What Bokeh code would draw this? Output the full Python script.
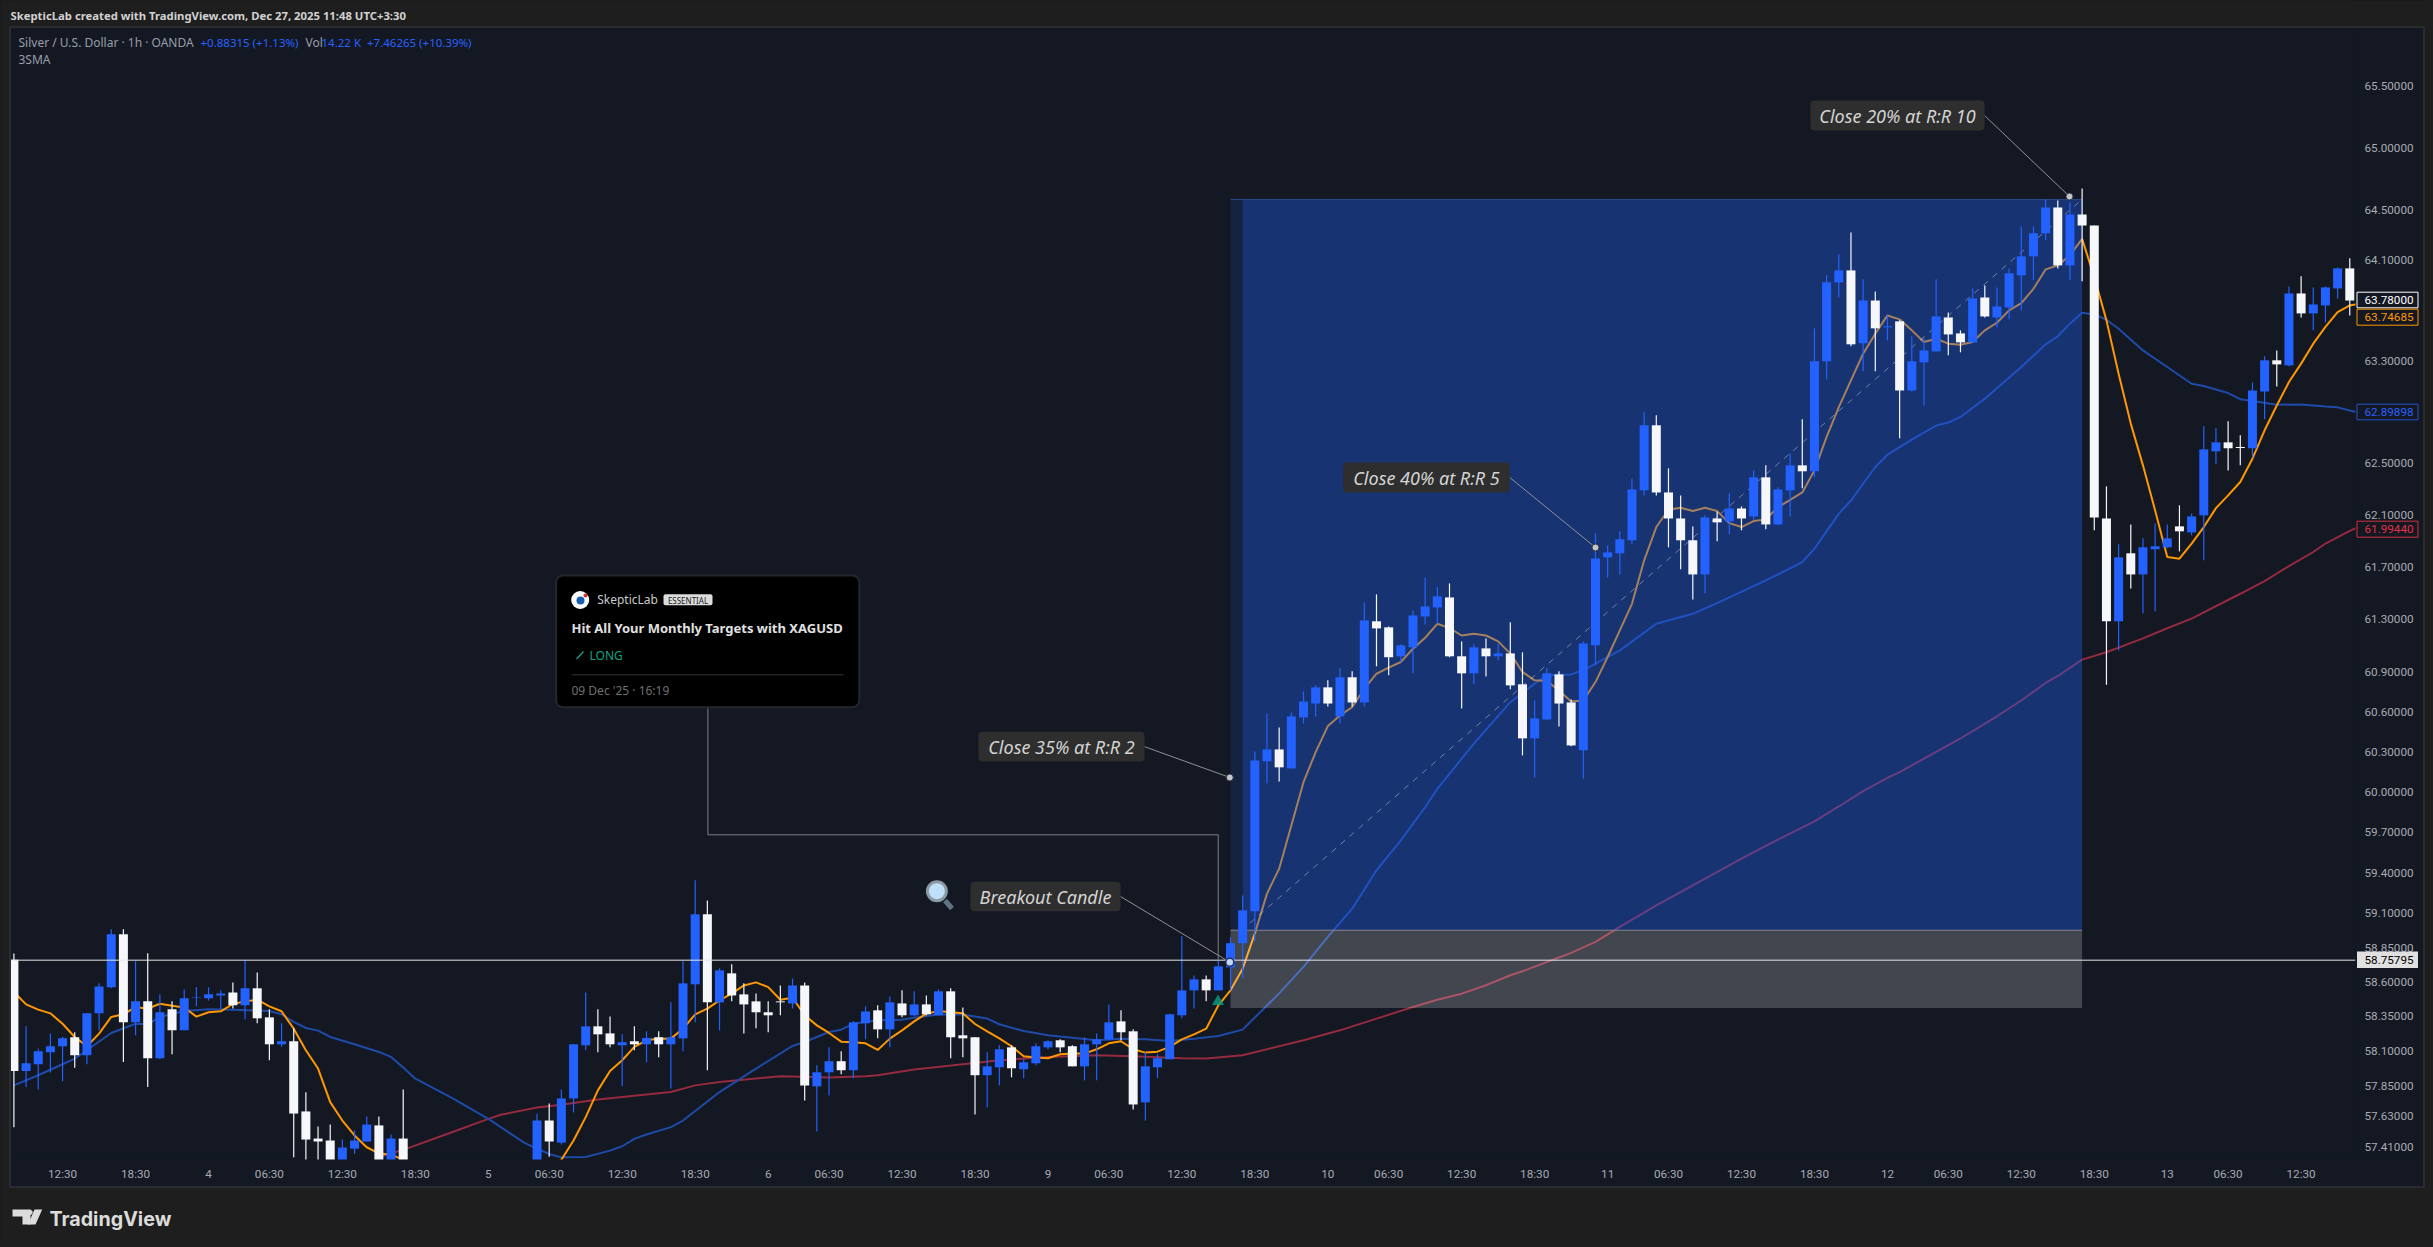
import math
from bokeh.plotting import figure
from bokeh.models import (Range1d, FixedTicker, PrintfTickFormatter, Label, PolyAnnotation)
from bokeh.embed import file_html
from bokeh.resources import INLINE

# ---------- data ----------
bar_side = ("wbbbbwbbbw" "bwbwbbbbwb" "wwbwwwwbbb" "wbwwbwwbbw" "bwbbwbbbww"
            "bwbwbbbwbw" "wwwwbwbbwb" "bwbwbwbwww" "bbwbbbwwbb" "bwwbbbbbwb"
            "bbbbwbbbwb" "wbwwbbbbww" "bwbwwbbwwb" "bbbbbwwwwb" "wbwbwbbwbb"
            "bwbwbwbbbw" "wbwbbbbbwb" "wwwbwbbbwb" "bbwwbbwbwb" "bbw")

highs = [58.806,58.277,58.116,58.226,58.202,58.234,58.371,58.589,58.984,58.984,
 58.750,58.808,58.509,58.458,58.545,58.562,58.560,58.538,58.596,58.757,
 58.669,58.400,58.299,58.263,57.801,57.556,57.570,57.463,57.528,57.628,
 57.628,57.499,57.822,57.28,57.22,57.20,57.10,57.09,57.15,57.16,
 57.18,57.17,57.25,57.647,57.721,57.822,58.147,58.523,58.400,58.349,
 58.219,58.277,58.241,58.241,58.451,58.750,59.344,59.196,58.699,58.728,
 58.589,58.516,58.458,58.574,58.625,58.596,57.996,58.125,58.097,58.313,
 58.422,58.429,58.494,58.538,58.531,58.501,58.545,58.553,58.414,58.198,
 58.089,58.140,58.140,58.039,58.154,58.176,58.183,58.140,58.198,58.226,
 58.436,58.393,58.255,58.089,58.075,58.369,58.933,58.647,58.647,58.762,
 58.926,59.233,60.302,60.587,60.482,60.595,60.753,60.799,60.837,60.928,
 60.906,61.429,61.490,61.246,61.110,61.368,61.620,61.544,61.574,61.132,
 61.110,61.155,61.117,61.277,61.049,60.685,60.928,60.906,60.693,61.132,
 61.960,61.866,61.974,62.383,62.897,62.874,62.461,62.251,62.012,62.097,
 62.127,62.266,62.166,62.445,62.484,62.314,62.577,62.843,63.557,63.977,
 64.144,64.319,63.945,63.849,63.659,63.620,63.494,63.478,63.945,63.683,
 63.541,63.873,63.897,63.881,64.032,64.367,64.367,64.583,64.575,64.559,
 64.671,64.375,62.321,61.874,62.027,61.920,62.035,62.027,62.174,62.112,
 62.788,62.773,62.827,62.718,63.131,63.336,63.383,63.889,63.969,63.881,
 63.889,64.040,64.112]

body_top = [58.762,58.010,58.097,58.133,58.190,58.198,58.371,58.567,58.948,58.948,
 58.458,58.458,58.379,58.400,58.480,58.487,58.509,58.516,58.523,58.553,
 58.553,58.342,58.169,58.169,57.664,57.470,57.456,57.406,57.456,57.570,
 57.564,57.470,57.470,57.24,57.18,57.17,57.07,57.05,57.11,57.12,
 57.13,57.14,57.21,57.599,57.599,57.757,58.147,58.277,58.277,58.226,
 58.162,58.169,58.193,58.198,58.198,58.589,59.094,59.094,58.684,58.662,
 58.509,58.458,58.379,58.458,58.574,58.574,57.945,58.025,58.025,58.306,
 58.385,58.393,58.451,58.443,58.436,58.436,58.531,58.531,58.212,58.198,
 57.988,58.111,58.125,58.017,58.133,58.169,58.176,58.133,58.147,58.183,
 58.306,58.313,58.241,57.988,58.046,58.364,58.538,58.618,58.618,58.713,
 58.882,59.123,60.235,60.317,60.317,60.565,60.677,60.784,60.784,60.860,
 60.860,61.292,61.285,61.239,61.102,61.330,61.398,61.475,61.467,61.019,
 61.087,61.079,61.041,61.041,60.807,60.550,60.890,60.882,60.670,61.117,
 61.766,61.812,61.913,62.297,62.796,62.796,62.274,62.073,61.905,62.081,
 62.073,62.150,62.150,62.391,62.391,62.297,62.484,62.484,63.297,63.921,
 64.016,64.016,63.777,63.777,63.573,63.612,63.297,63.383,63.651,63.643,
 63.517,63.793,63.801,63.730,63.993,64.128,64.312,64.519,64.519,64.463,
 64.463,64.375,62.073,61.774,61.805,61.851,61.859,61.920,62.012,62.089,
 62.608,62.663,62.663,62.627,63.068,63.305,63.305,63.833,63.833,63.746,
 63.881,64.032,64.032]

body_bottom = [57.955,57.955,58.003,58.089,58.133,58.068,58.068,58.371,58.560,58.306,
 58.306,58.046,58.046,58.248,58.248,58.482,58.480,58.501,58.429,58.429,
 58.335,58.147,58.147,57.649,57.463,57.449,57.30,57.30,57.398,57.449,
 57.30,57.30,57.30,57.17,57.12,57.06,57.00,56.98,57.04,57.05,
 57.05,57.08,57.12,57.28,57.449,57.441,57.757,58.140,58.219,58.147,
 58.140,58.147,58.147,58.147,58.147,58.190,58.582,58.451,58.451,58.501,
 58.436,58.379,58.357,58.451,58.443,57.851,57.844,57.945,57.960,57.960,
 58.299,58.255,58.255,58.357,58.357,58.364,58.357,58.198,58.190,57.924,
 57.924,57.981,57.974,57.967,58.010,58.125,58.125,57.988,57.988,58.147,
 58.183,58.234,57.714,57.729,57.981,58.039,58.357,58.538,58.538,58.538,
 58.706,58.882,59.116,60.228,60.183,60.175,60.557,60.662,60.662,60.565,
 60.670,60.670,61.231,61.012,61.019,61.087,61.322,61.390,61.019,60.890,
 60.890,61.019,61.019,60.799,60.400,60.400,60.542,60.662,60.347,60.310,
 61.102,61.774,61.805,61.905,62.290,62.274,62.073,61.905,61.643,61.643,
 62.043,62.050,62.073,62.089,62.027,62.027,62.290,62.438,62.438,63.297,
 63.921,63.431,63.439,63.557,63.565,63.068,63.068,63.289,63.375,63.509,
 63.446,63.446,63.651,63.643,63.722,63.977,64.128,64.312,64.056,64.056,
 64.375,62.081,61.285,61.285,61.643,61.643,61.836,61.851,61.974,61.966,
 62.097,62.593,62.617,62.619,62.617,63.060,63.273,63.265,63.675,63.675,
 63.738,63.873,63.777]

lows = [57.551,57.839,57.822,57.943,57.880,57.977,58.003,58.248,58.553,58.020,
 58.212,57.839,58.039,58.075,58.248,58.422,58.465,58.400,58.407,58.328,
 58.299,58.032,58.128,57.336,57.25,57.25,57.25,57.25,57.362,57.449,
 57.25,57.25,57.25,57.12,57.08,57.03,56.96,56.95,57.00,57.02,
 57.02,57.05,57.10,57.24,57.341,57.427,57.657,58.104,58.089,58.125,
 57.844,58.104,58.017,58.053,57.829,58.097,58.306,57.960,58.248,58.458,
 58.226,58.263,58.234,58.357,58.407,57.743,57.521,57.779,57.931,57.902,
 58.183,58.190,58.125,58.342,58.349,58.357,58.357,58.046,58.053,57.642,
 57.693,57.851,57.909,57.902,57.996,58.111,58.089,57.988,57.887,57.887,
 58.176,58.176,57.678,57.599,57.902,58.039,58.335,58.407,58.458,58.538,
 58.538,58.626,58.897,60.062,60.078,60.175,60.512,60.565,60.640,60.512,
 60.640,60.640,60.943,60.875,60.974,60.890,61.261,61.269,61.012,60.625,
 60.807,60.867,60.989,60.769,60.272,60.107,60.542,60.490,60.340,60.100,
 60.951,61.620,61.643,61.874,62.251,62.251,61.851,61.682,61.452,61.498,
 61.897,61.951,61.982,62.066,61.989,62.020,62.089,62.306,62.391,63.155,
 63.801,63.415,63.218,63.218,63.462,62.695,63.060,62.951,63.375,63.344,
 63.368,63.446,63.643,63.565,63.628,63.699,63.937,64.256,64.032,63.937,
 63.929,61.982,60.803,61.064,61.536,61.345,61.360,61.843,61.820,61.943,
 61.751,62.492,62.445,62.484,62.546,62.843,63.100,63.258,63.643,63.541,
 63.604,63.793,63.659]

sma_fast = [58.526,58.436,58.398,58.371,58.296,58.200,58.133,58.224,58.345,58.364,
 58.417,58.405,58.441,58.426,58.414,58.347,58.379,58.386,58.439,58.458,
 58.470,58.422,58.386,58.260,58.104,57.972,57.731,57.599,57.492,57.408,
 57.365,57.355,57.32,57.27,57.22,57.17,57.13,57.09,57.07,57.06,
 57.07,57.08,57.12,57.18,57.25,57.319,57.456,57.623,57.815,57.955,
 58.032,58.128,58.176,58.188,58.188,58.260,58.364,58.405,58.465,58.514,
 58.574,58.596,58.562,58.470,58.484,58.357,58.284,58.229,58.166,58.162,
 58.154,58.106,58.188,58.248,58.313,58.369,58.388,58.379,58.371,58.294,
 58.241,58.190,58.133,58.060,58.051,58.046,58.075,58.080,58.080,58.111,
 58.154,58.169,58.111,58.087,58.094,58.128,58.183,58.219,58.260,58.429,
 58.538,58.696,58.953,59.246,59.430,59.750,60.072,60.297,60.492,60.572,
 60.635,60.774,60.887,60.933,60.976,61.077,61.160,61.266,61.233,61.177,
 61.190,61.177,61.132,61.039,60.900,60.837,60.832,60.761,60.677,60.685,
 60.824,61.014,61.216,61.418,61.751,62.007,62.140,62.156,62.130,62.156,
 62.130,62.037,62.007,62.053,62.066,62.161,62.217,62.274,62.445,62.705,
 62.938,63.147,63.357,63.515,63.659,63.628,63.541,63.449,63.475,63.436,
 63.428,63.449,63.541,63.601,63.699,63.756,63.870,64.024,64.056,64.136,
 64.267,63.963,63.620,63.200,62.809,62.484,62.135,61.777,61.764,61.879,
 62.007,62.153,62.251,62.355,62.536,62.757,62.951,63.134,63.279,63.436,
 63.568,63.686,63.738,63.755]

sma_mid_i = [0,2,4,5,6,8,10,11,12,14,16,18,21,22,23,24,25,26,28,30,31,32,33,36,39,42,44,45,47,49,
 50,51,52,54,55,58,61,64,65,67,68,69,70,71,73,74,76,78,80,81,83,85,87,89,91,93,95,97,99,
 101,104,106,108,110,112,114,116,117,120,123,125,126,128,129,132,135,138,140,
 144,147,148,150,151,153,154,156,158,159,160,162,165,167,168,169,170,
 171,172,173,175,177,179,180,182,183,184,186,188,190,191,192,193]
sma_mid = [57.851,57.924,58.003,58.044,58.104,58.229,58.296,58.292,58.345,58.388,58.400,58.398,58.388,58.364,58.309,58.265,58.246,58.200,58.147,58.092,58.056,57.979,57.899,57.762,57.611,57.437,57.360,57.336,57.338,57.384,
 57.415,57.468,57.499,57.552,57.599,57.803,57.972,58.135,58.164,58.236,58.253,58.296,58.309,58.321,58.325,58.340,58.362,58.362,58.333,58.292,58.243,58.212,58.195,58.176,58.188,58.183,58.171,58.188,58.207,
 58.253,58.516,58.709,58.928,59.135,59.418,59.640,59.885,60.022,60.360,60.672,60.812,60.875,60.882,60.913,61.064,61.266,61.342,61.424,
 61.597,61.738,61.841,62.109,62.212,62.471,62.567,62.684,62.794,62.817,62.861,63.003,63.252,63.431,63.494,63.594,63.680,
 63.667,63.625,63.554,63.383,63.252,63.121,63.103,63.048,63.000,62.985,62.956,62.959,62.943,62.936,62.912,62.89]

sma_slow_i = [30,31,32,36,39,40,43,45,48,52,54,56,58,61,63,67,70,71,74,78,81,85,89,92,96,98,101,
 106,109,112,115,117,119,121,123,124,127,128,130,132,135,138,142,144,148,150,152,154,155,158,160,163,
 165,167,168,170,172,175,177,179,183,185,187,189,190,192,193]
sma_slow = [57.336,57.365,57.389,57.515,57.611,57.640,57.692,57.712,57.750,57.786,57.803,57.851,57.875,57.900,57.916,57.907,57.916,57.924,57.965,58.003,58.032,58.056,58.068,58.061,58.046,58.044,58.068,
 58.176,58.248,58.333,58.417,58.470,58.514,58.575,58.648,58.677,58.778,58.811,58.892,59.001,59.159,59.307,59.504,59.599,59.780,59.891,60.006,60.105,60.147,60.299,60.399,60.566,
 60.685,60.817,60.870,60.994,61.050,61.155,61.232,61.305,61.495,61.592,61.707,61.815,61.880,61.977,62.02]

price_ticks = [65.5,65.0,64.5,64.1,63.3,62.5,62.1,61.7,61.3,60.9,60.6,60.3,60.0,59.7,59.4,59.1,58.85,58.6,58.35,58.1,57.85,57.63,57.41]
time_ticks = [4,10,16,21,27,33,39,44,50,56,62,67,73,79,85,90,96,102,108,113,119,125,131,136,142,148,154,159,165,171,177,182,188]
time_labels = ["12:30","18:30","4","06:30","12:30","18:30","5","06:30","12:30","18:30","6","06:30","12:30","18:30","9","06:30","12:30","18:30","10","06:30","12:30","18:30","11","06:30","12:30","18:30","12","06:30","12:30","18:30","13","06:30","12:30"]

last_price = 58.75795
position_entry_i, position_exit_i = 100, 170
position_target = 64.583
position_entry = 58.977
position_stop = 58.409
dash_i = [101.6, 169.9]
dash_p = [59.03, 64.575]

# ---------- layout: reference pixels to data / to screen units ----------
BG, PAGE = "#131823", "#1e1e1e"
W, H = 2425, 1239
FL, FT, FR, FB = 10, 27, 2355, 1159      # chart pane
PR, PB = 2423, 1186                       # outer panel
X0, DX = 13.4, 12.166
Y0, K, P0 = 209.3, 8048.0, 64.5
def PX(px): return (px - X0) / DX
def PY(py): return P0 * math.exp((Y0 - py) / K)
def SX(px): return px
def SY(py): return H - py

UI = "Noto Sans"
AX = "Roboto"

p = figure(width=W, height=H, output_backend="svg", toolbar_location=None,
           x_range=Range1d(PX(0), PX(W)), y_range=Range1d(PY(H), PY(0)),
           y_axis_type="log", y_axis_location="right",
           min_border_left=0, min_border_top=0, min_border_right=0, min_border_bottom=0,
           background_fill_color=BG, border_fill_color=PAGE)
p.grid.visible = False
p.outline_line_color = None

for ax in (p.xaxis, p.yaxis):
    ax.major_tick_line_color = None
    ax.minor_tick_line_color = None
    ax.axis_line_color = None
    ax.major_tick_out = 0
    ax.major_tick_in = 0
    ax.major_label_text_color = "#a8abb2"
    ax.major_label_text_font = AX
    ax.major_label_text_font_size = "11.7px"

p.yaxis.ticker = FixedTicker(ticks=price_ticks)
p.yaxis.formatter = PrintfTickFormatter(format="%.5f")
p.yaxis.major_label_standoff = 9
p.yaxis.fixed_location = PX(FR)

p.xaxis.ticker = FixedTicker(ticks=time_ticks)
p.xaxis.major_label_overrides = dict(zip(time_ticks, time_labels))
p.xaxis.major_label_standoff = 7
p.xaxis.fixed_location = PY(FB)

def ann_poly(pts, fill=None, line=None, lw=1):
    a = PolyAnnotation(xs=[SX(x) for x, _ in pts], ys=[SY(y) for _, y in pts],
                       xs_units="screen", ys_units="screen",
                       fill_color=fill if fill else "#000000", fill_alpha=1.0 if fill else 0.0,
                       line_color=line if line else "#000000", line_alpha=1.0 if line else 0.0, line_width=lw)
    p.add_layout(a)

def ann_rect(x0, x1, y0, y1, fill=None, line=None, lw=1):
    ann_poly([(x0, y0), (x1, y0), (x1, y1), (x0, y1)], fill, line, lw)

def txt(x, y, s, size="12px", color="#c8c8c8", font=UI, style="normal", align="left"):
    p.add_layout(Label(x=SX(x), y=SY(y), x_units="screen", y_units="screen", text=s, text_font=font,
                       text_font_size=size, text_color=color, text_font_style=style,
                       text_align=align, text_baseline="middle"))

def mask(x0, x1, y0, y1, color):
    p.quad(left=[PX(x0)], right=[PX(x1)], bottom=[PY(y1)], top=[PY(y0)], fill_color=color, line_color=None)

# moving averages, under the position overlay
all_i = list(range(len(sma_fast)))
p.line(sma_slow_i, sma_slow, line_color="#962a3f", line_width=2)
p.line(sma_mid_i, sma_mid, line_color="#1f4aa8", line_width=2)
p.line(all_i, sma_fast, line_color="#ff9800", line_width=2)

# position overlay
p.quad(left=position_entry_i, right=position_entry_i + 1, bottom=position_entry, top=position_target,
       fill_color="#1d3f8f", fill_alpha=0.28, line_color=None)
p.quad(left=position_entry_i + 1, right=position_exit_i, bottom=position_entry, top=position_target,
       fill_color="#205ce8", fill_alpha=0.40, line_color=None)
p.quad(left=position_entry_i, right=position_exit_i, bottom=position_stop, top=position_entry,
       fill_color="#ffffff", fill_alpha=0.20, line_color=None)
p.segment(x0=[position_entry_i], x1=[position_exit_i], y0=[position_entry], y1=[position_entry],
          line_color="#85878e", line_width=1)
p.segment(x0=[position_entry_i], x1=[position_exit_i], y0=[position_target], y1=[position_target],
          line_color="#2a4a8c", line_width=1)
p.line(dash_i, dash_p, line_color="#ffffff", line_alpha=0.38, line_width=1, line_dash="6 6")

# candles
BLUE, WHITE = "#2362ff", "#f5f7fa"
colors = [BLUE if c == "b" else WHITE for c in bar_side]
idx = list(range(len(highs)))
p.segment(x0=idx, x1=idx, y0=lows, y1=highs, line_color=colors, line_width=1.2)
p.quad(left=[i - 0.37 for i in idx], right=[i + 0.37 for i in idx], bottom=body_bottom, top=body_top,
       fill_color=colors, line_color=None)

# last price line
p.line([PX(FL), PX(FR)], [last_price, last_price], line_color="#e6e6e6", line_width=1)

# connector from idea card and its triangle
p.line([PX(707.4), PX(707.4), PX(1217.7), PX(1217.7)], [PY(707), PY(834.3), PY(834.3), PY(960)],
       line_color="#7d7f84", line_width=1)
p.scatter([PX(1217.5)], [PY(1001)], marker="triangle", size=12, fill_color="#089981", fill_alpha=0.85, line_color=None)

# panel chrome: everything that overruns the pane is cut off here
mask(FR, PR, 0, PB, BG)
mask(FL, PR, FB, PB, BG)
mask(0, W, PB + 1, H, PAGE)
mask(PR + 1, W, 0, H, PAGE)
mask(0, W, 0, FT - 1, PAGE)
mask(0, FL - 1, 0, H, PAGE)
ann_rect(FL - 0.5, PR + 0.5, FT - 0.5, PB + 0.5, None, line="#2b2c2f", lw=2)

# idea card
p.quad(left=[PX(555.6)], right=[PX(858.8)], bottom=[PY(706.7)], top=[PY(575)],
       fill_color="#000000", line_color="#26272a", line_width=2, border_radius=7)
p.scatter([PX(579.7)], [PY(599.5)], marker="circle", size=18, fill_color="#ffffff", line_color=None)
p.scatter([PX(580)], [PY(600)], marker="circle", size=8, fill_color="#1a5fb4", line_color=None)
p.scatter([PX(585)], [PY(595)], marker="circle", size=4, fill_color="#d0342c", line_color=None)
p.quad(left=[PX(663)], right=[PX(712)], bottom=[PY(604.7)], top=[PY(593.7)],
       fill_color="#dcdcdc", line_color=None, border_radius=2)
p.line([PX(571), PX(843)], [PY(674.3), PY(674.3)], line_color="#333436", line_width=1)
p.line([PX(576), PX(583)], [PY(658.5), PY(651)], line_color="#16a085", line_width=1.3)

# callouts
def callout(x0, x1, y0, y1, text, lx, ly, dot):
    p.line([PX(x1), PX(lx)], [PY((y0 + y1) / 2), PY(ly)], line_color="#8f9196", line_width=1)
    p.quad(left=[PX(x0)], right=[PX(x1)], bottom=[PY(y1)], top=[PY(y0)],
           fill_color="#2e2e2e", line_color=None, border_radius=4)
    if dot:
        p.scatter([PX(lx)], [PY(ly)], marker="circle", size=7, fill_color="#c4c6cc", line_color="#2b2f3a", line_width=1)
    txt((x0 + x1) / 2, (y0 + y1) / 2, text, size="18px", color="#d4d4d4", style="italic", align="center")

callout(1810, 1984, 100, 130, "Close 20% at R:R 10", 2069, 196, True)
callout(1342.7, 1509.3, 462, 492, "Close 40% at R:R 5", 1595, 547, True)
callout(978, 1144, 731.3, 761, "Close 35% at R:R 2", 1229.3, 777, True)
callout(970, 1120, 881.3, 910.7, "Breakout Candle", 1229.3, 961.7, False)
p.scatter([PX(1229.3)], [PY(961.7)], marker="circle", size=8, fill_color="#c3d6f5", line_color="#1c2f66", line_width=1.5)

# magnifier
p.line([PX(944.5), PX(951.5)], [PY(900), PY(908)], line_color="#5f7482", line_width=5)
p.scatter([PX(936.4)], [PY(890.7)], marker="circle", size=19, fill_color="#bfe0f8", line_color="#8b9aa5", line_width=3)

# card text
txt(596.7, 599, "SkepticLab", size="12px", color="#c9c9c9")
txt(687.5, 599.5, "ESSENTIAL", size="8px", color="#1a1a1a", align="center")
txt(571, 627.3, "Hit All Your Monthly Targets with XAGUSD", size="13px", color="#e0e0e0", style="bold")
txt(589, 655, "LONG", size="12px", color="#16a085")
txt(571, 689.7, "09 Dec '25 \u00b7 16:19", size="12px", color="#707070")

# header and legend
txt(10, 15, "SkepticLab created with TradingView.com, Dec 27, 2025 11:48 UTC+3:30", size="11.3px", color="#d2d2d2", style="bold")
txt(18, 42, "Silver / U.S. Dollar \u00b7 1h \u00b7 OANDA", size="12px", color="#9a9ea8")
txt(200, 42, "+0.88315 (+1.13%)", size="11.5px", color="#2962ff")
txt(305, 42, "Vol", size="12px", color="#9a9ea8")
txt(321, 42, "14.22 K", size="11.5px", color="#2962ff")
txt(366.5, 42, "+7.46265 (+10.39%)", size="11.5px", color="#2962ff")
txt(18, 59.3, "3SMA", size="12px", color="#9a9ea8")

# price boxes
def price_box(y0, y1, text, line, color, fill=BG):
    ann_rect(2356.5, 2417.5, y0, y1, fill, line, 1)
    txt(2364, (y0 + y1) / 2, text, size="11.7px", color=color, font=AX)

price_box(291.7, 307.3, "63.78000", "#ffffff", "#ffffff")
price_box(308.7, 324.7, "63.74685", "#ff9800", "#ff9800")
price_box(403.7, 419.3, "62.89898", "#2152c4", "#2962ff")
price_box(520.7, 536.7, "61.99440", "#d32f3f", "#e03345")
price_box(951, 967.5, "58.75795", None, "#000000", fill="#e0e0e0")

# logo
ann_poly([(12, 1209), (30, 1209), (30, 1224), (22, 1224), (22, 1216), (12, 1216)], "#dcdcdc")
ann_poly([(34, 1209), (41.7, 1209), (35, 1224), (27.5, 1224)], "#dcdcdc")
ann_poly([(29.5 + 2.6 * math.cos(a / 8 * math.pi), 1211.8 + 2.6 * math.sin(a / 8 * math.pi)) for a in range(16)], "#dcdcdc")
txt(49, 1218, "TradingView", size="19.7px", color="#dcdcdc", font="Inter", style="bold")

html = file_html(p, INLINE)
html = html.replace("<head>", "<head><style>html,body{background:#1e1e1e}</style>", 1)
open("out.html", "w").write(html)
